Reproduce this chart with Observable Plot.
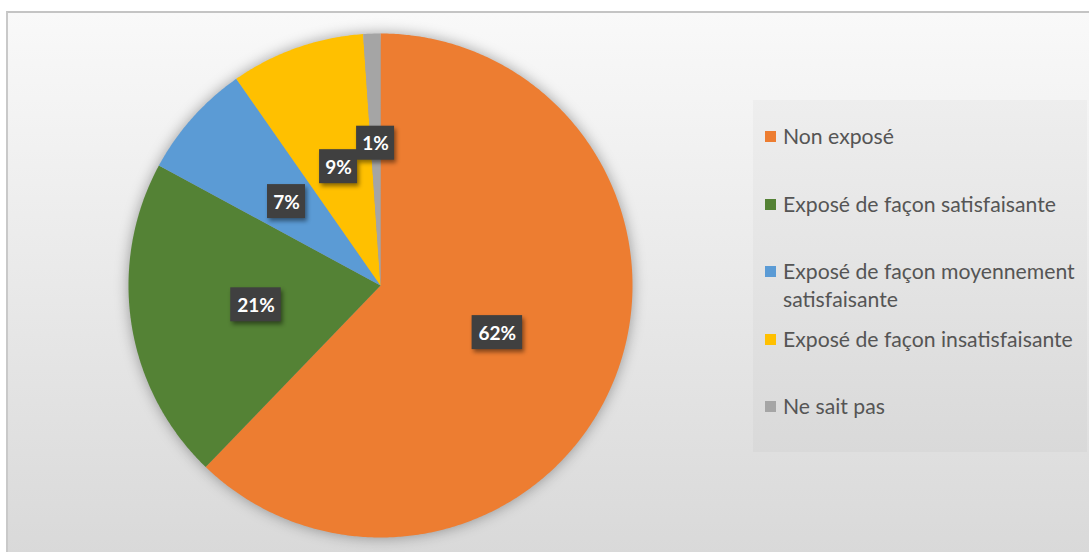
<!DOCTYPE html>
<html><head><meta charset="utf-8">
<script src="https://cdn.jsdelivr.net/npm/d3@7"></script>
<script src="https://cdn.jsdelivr.net/npm/@observablehq/plot@0.6"></script>
<style>
html,body{margin:0;padding:0;background:#fff;width:1089px;height:552px;overflow:hidden;}
#frame{position:absolute;left:6px;top:11px;width:1100px;height:560px;border-left:2px solid #c9c9c9;border-top:2px solid #c4c4c4;background:linear-gradient(#f9f9f9,#d9d9d9 541px);}
#chart{position:absolute;left:0;top:0;}
#chart svg{background:transparent;overflow:visible;}
#chart g[aria-label="line"]{filter:drop-shadow(0 0 7px rgba(0,0,0,0.35));}
#chart g[aria-label="rect"]{filter:drop-shadow(2px 3px 2px rgba(0,0,0,0.45));}
#legend{position:absolute;left:753px;top:100px;width:334px;height:352px;background:rgba(0,0,0,0.025);}
.item{position:absolute;left:30px;width:304px;font-family:Lato,"Open Sans",sans-serif;font-size:21.2px;color:#555555;line-height:28px;}
.sw{position:absolute;width:11px;height:11px;left:-18px;top:9px;}
</style>
</head><body>
<div id="frame"></div>
<div id="chart"></div>
<div id="legend"></div>
<script>
const categories = ["Non exposé", "Exposé de façon satisfaisante", "Exposé de façon moyennement satisfaisante", "Exposé de façon insatisfaisante", "Ne sait pas"];
const values = [62.2, 20.7, 7.4, 8.6, 1.1];
const colors = ["#ED7D31", "#548235", "#5B9BD5", "#FFC000", "#A5A5A5"];

// slice geometry from the values (unit circle, angle 0 at top, clockwise)
const total = d3.sum(values);
const polys = [];
const labels = [];
let acc = 0;
categories.forEach((c, i) => {
  const a0 = acc / total * 2 * Math.PI;
  acc += values[i];
  const a1 = acc / total * 2 * Math.PI;
  polys.push({cat: c, x: 0, y: 0});
  const n = Math.max(2, Math.ceil((a1 - a0) / (Math.PI / 360)));
  for (let k = 0; k <= n; k++) {
    const a = a0 + (a1 - a0) * k / n;
    polys.push({cat: c, x: Math.sin(a), y: -Math.cos(a)});
  }
  polys.push({cat: c, x: 0, y: 0});
  const m = (a0 + a1) / 2;
  const rr = values[i] / total < 0.02 ? 0.565 : 0.5;
  const text = Math.round(values[i]) + "%";
  labels.push({cat: c, text, x: rr * Math.sin(m), y: -rr * Math.cos(m), hw: (text.length * 12.5 + 13) / 2});
});

const R = 252, CX = 380, CY = 285;
const plot = Plot.plot({
  width: 1089, height: 552,
  marginTop: 0, marginRight: 0, marginBottom: 0, marginLeft: 0,
  x: {domain: [-1, 1], range: [CX - R, CX + R], axis: null},
  y: {domain: [-1, 1], range: [CY - R, CY + R], axis: null},
  color: {domain: categories, range: colors},
  style: {background: "transparent"},
  marks: [
    Plot.line(polys, {x: "x", y: "y", z: "cat", fill: "cat", stroke: "none", curve: "linear"}),
    Plot.rect(labels, {
      x1: d => d.x - d.hw / R, x2: d => d.x + d.hw / R,
      y1: d => d.y - 17 / R, y2: d => d.y + 17 / R,
      fill: "#404040"
    }),
    Plot.text(labels, {x: "x", y: "y", text: "text", fill: "white", fontSize: 19, fontWeight: "bold", fontFamily: "Lato, 'Open Sans', sans-serif", dy: 1})
  ]
});
document.getElementById("chart").appendChild(plot);

const colorScale = plot.scale("color");
const legend = document.getElementById("legend");
categories.forEach((c, i) => {
  const it = document.createElement("div");
  it.className = "item";
  it.style.top = (22 + 67.5 * i) + "px";
  const sw = document.createElement("span");
  sw.className = "sw";
  sw.style.background = colorScale.apply(c);
  it.appendChild(sw);
  it.appendChild(document.createTextNode(c));
  legend.appendChild(it);
});
</script>
</body></html>
